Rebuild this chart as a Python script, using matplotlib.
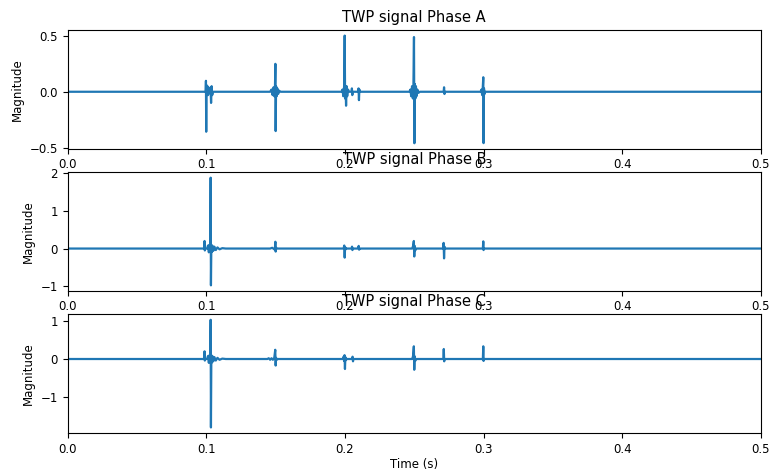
import numpy as np
import matplotlib
matplotlib.use('Agg')
import matplotlib.pyplot as plt

# sample times (s) and magnitudes
phase_a_t = [0.0,
             0.0995, 0.0997, 0.0999, 0.1001, 0.1004, 0.1008, 0.1012, 0.1020,
             0.1030, 0.1034, 0.1038, 0.1042, 0.1048,
             0.1460, 0.1470, 0.1478, 0.1485, 0.1490, 0.1495, 0.1498, 0.1500,
             0.1503, 0.1507, 0.1512, 0.1518, 0.1525, 0.1535,
             0.1975, 0.1982, 0.1988, 0.1994, 0.1998, 0.2001, 0.2004, 0.2008,
             0.2012, 0.2016, 0.2022, 0.2030,
             0.2048, 0.2050, 0.2053, 0.2056,
             0.2095, 0.2098, 0.2101, 0.2104, 0.2108,
             0.2465, 0.2472, 0.2478, 0.2484, 0.2490, 0.2494, 0.2498, 0.2501,
             0.2504, 0.2508, 0.2512, 0.2516, 0.2522, 0.2530, 0.2540,
             0.2712, 0.2715, 0.2718, 0.2721,
             0.2978, 0.2985, 0.2990, 0.2994, 0.2998, 0.3000, 0.3003, 0.3007,
             0.3012,
             0.5]
phase_a_v = [0.0,
             0.0, 0.098, -0.358, 0.06, -0.03, 0.05, -0.03, 0.0,
             0.04, -0.10, 0.05, -0.03, 0.0,
             0.0, 0.02, -0.03, 0.04, -0.04, 0.04, 0.25, -0.352,
             0.05, -0.04, 0.03, -0.02, 0.01, 0.0,
             0.0, 0.02, -0.04, 0.05, 0.503, -0.06, 0.05, -0.125,
             0.05, -0.04, 0.02, 0.0,
             0.0, 0.03, -0.03, 0.0,
             0.0, 0.03, -0.075, 0.02, 0.0,
             0.0, 0.02, -0.04, 0.05, -0.06, 0.06, 0.49, -0.461,
             0.07, -0.06, 0.05, -0.04, 0.02, -0.01, 0.0,
             0.0, 0.04, -0.02, 0.0,
             0.0, 0.02, -0.03, 0.03, 0.13, -0.46, 0.03, -0.02,
             0.0,
             0.0]

phase_b_t = [0.0,
             0.0985, 0.0987, 0.0989, 0.0992,
             0.1005, 0.1012, 0.1018, 0.1023, 0.1028, 0.1031, 0.1033, 0.1036,
             0.1040, 0.1045, 0.1050, 0.1058, 0.1068, 0.1080, 0.1095, 0.1115,
             0.1140,
             0.1460, 0.1475, 0.1490, 0.1495, 0.1498, 0.1500, 0.1503, 0.1507,
             0.1990, 0.1995, 0.1998, 0.2001, 0.2005, 0.2010,
             0.2048, 0.2051, 0.2054, 0.2057,
             0.2095, 0.2099, 0.2102, 0.2106,
             0.2485, 0.2491, 0.2497, 0.2500, 0.2503, 0.2507, 0.2512,
             0.2708, 0.2712, 0.2715, 0.2718, 0.2722,
             0.2995, 0.2998, 0.3000, 0.3003,
             0.5]
phase_b_v = [0.0,
             0.0, 0.2, -0.05, 0.0,
             0.0, 0.08, -0.10, 0.10, -0.08, 1.874, -0.973, 0.10,
             -0.09, 0.07, -0.06, 0.05, -0.04, 0.03, -0.02, 0.01,
             0.0,
             0.0, 0.02, -0.02, 0.03, 0.18, -0.08, 0.02, 0.0,
             0.0, 0.08, -0.24, 0.04, -0.02, 0.0,
             0.0, 0.05, -0.04, 0.0,
             0.0, 0.07, -0.03, 0.0,
             0.0, 0.06, 0.2, -0.21, 0.07, -0.05, 0.0,
             0.0, 0.15, -0.26, 0.05, 0.0,
             0.0, 0.19, -0.04, 0.0,
             0.0]

phase_c_t = [0.0,
             0.0985, 0.0987, 0.0989, 0.0992,
             0.1005, 0.1012, 0.1018, 0.1023, 0.1028, 0.1031, 0.1033, 0.1036,
             0.1040, 0.1045, 0.1050, 0.1058, 0.1068, 0.1080, 0.1095, 0.1115,
             0.1140,
             0.1440, 0.1450, 0.1460, 0.1470, 0.1480, 0.1490, 0.1497, 0.1500,
             0.1503, 0.1508, 0.1513,
             0.1985, 0.1990, 0.1994, 0.1997, 0.2000, 0.2003, 0.2007, 0.2012,
             0.2052, 0.2055, 0.2058, 0.2061,
             0.2485, 0.2491, 0.2497, 0.2500, 0.2503, 0.2507, 0.2512,
             0.2710, 0.2713, 0.2716, 0.2719,
             0.2995, 0.2998, 0.3000, 0.3003,
             0.5]
phase_c_v = [0.0,
             0.0, 0.2, -0.04, 0.0,
             0.0, 0.08, -0.10, 0.10, -0.08, 1.02, -1.78, 0.10,
             -0.09, 0.07, -0.06, 0.05, -0.04, 0.03, -0.02, 0.01,
             0.0,
             0.0, 0.02, -0.02, 0.02, -0.02, 0.03, 0.24, -0.17,
             0.03, -0.02, 0.0,
             0.0, 0.06, -0.05, 0.1, -0.26, 0.05, -0.03, 0.0,
             0.0, 0.06, -0.06, 0.0,
             0.0, 0.07, 0.33, -0.28, 0.07, -0.05, 0.0,
             0.0, 0.26, -0.06, 0.0,
             0.0, 0.33, -0.05, 0.0,
             0.0]

phase_names = ['A', 'B', 'C']
phase_times = [phase_a_t, phase_b_t, phase_c_t]
phase_values = [phase_a_v, phase_b_v, phase_c_v]
y_ticks = [[-0.5, 0.0, 0.5], [-1, 0, 1, 2], [-1, 0, 1]]

fig, axes = plt.subplots(nrows=3, ncols=1, figsize=[7.7, 4.72], dpi=100)
fig.subplots_adjust(left=0.088, right=0.988, top=0.936, bottom=0.083,
                    hspace=0.2)

for ax, name, t, v, yt in zip(axes, phase_names, phase_times,
                              phase_values, y_ticks):
    ax.plot(np.array(t), np.array(v), color='#1f77b4', linewidth=1.6)
    ax.set_xlim(0, 0.5)
    ax.set_yticks(yt)
    ax.set_title('TWP signal Phase ' + name, fontsize=10.5)
    ax.set_ylabel('Magnitude', fontsize=8.5)
    ax.tick_params(axis='both', labelsize=8.5)

axes[2].set_xlabel('Time (s)', fontsize=8.5, labelpad=2)

fig.savefig('out.png', dpi=100)
plt.close(fig)
